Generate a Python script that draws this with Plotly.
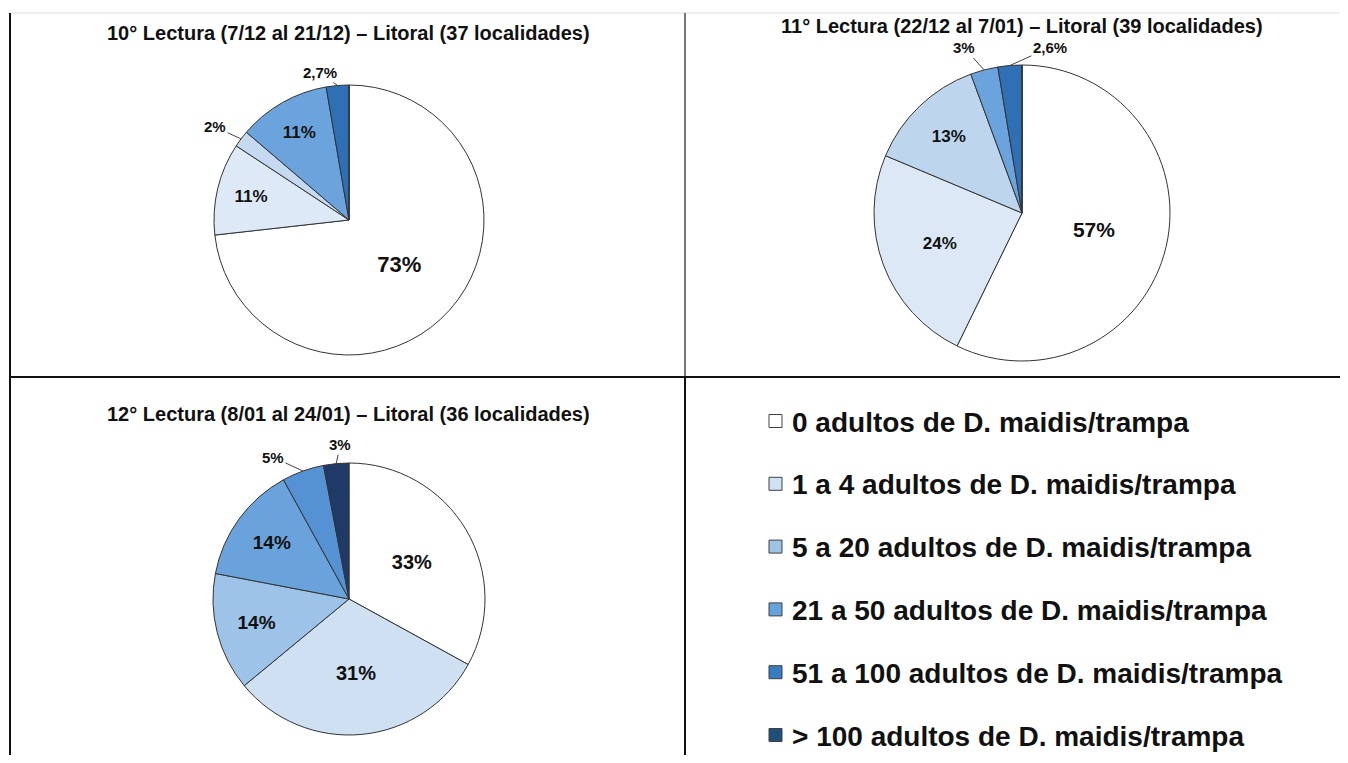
import math
import plotly.graph_objects as go

categories = [
    "0 adultos de D. maidis/trampa",
    "1 a 4 adultos de D. maidis/trampa",
    "5 a 20 adultos de D. maidis/trampa",
    "21 a 50 adultos de D. maidis/trampa",
    "51 a 100 adultos de D. maidis/trampa",
    "> 100 adultos de D. maidis/trampa",
]

titles = [
    "10° Lectura (7/12 al 21/12) – Litoral (37 localidades)",
    "11° Lectura (22/12 al 7/01) – Litoral (39 localidades)",
    "12° Lectura (8/01 al 24/01) – Litoral (36 localidades)",
]

values_10 = [73, 11, 2, 11, 2.7, 0]
values_11 = [57, 24, 13, 3, 2.6, 0]
values_12 = [33, 31, 14, 14, 5, 3]

colors_10 = ["#FFFFFF", "#DDE9F6", "#C5DAF0", "#6BA3DD", "#2F6FB5", "#1F3A66"]
colors_11 = ["#FFFFFF", "#DCE8F5", "#BDD6EE", "#6BA3DD", "#2F6FB5", "#1F3A66"]
colors_12 = ["#FFFFFF", "#CFE0F3", "#9EC3E8", "#6AA3DC", "#5592D4", "#1F3A66"]
legend_colors = ["#FFFFFF", "#D0E1F4", "#9DC3E6", "#66A3DB", "#3A7CC0", "#1F4E79"]

# page offset (browser body margin)
OFF = 8
W, H = 1348 - 2 * OFF, 763 - 2 * OFF
FONT = "Liberation Sans, Arial, sans-serif"


def X(px):
    return (px - OFF) / W


def Y(py):
    return 1 - (py - OFF) / H


def fmt(v):
    return ("%g" % v).replace(".", ",") + "%"


# pie geometry (reference pixels): centre x, centre y, radius
geo = [(349, 220, 135), (1022, 213, 148), (349, 599, 136)]
# small-slice label offsets (px) for outside labels with leader lines
label_offsets = [
    {2: (-26, -12), 4: (-18, -13)},
    {3: (-20, -22), 4: (40, -18)},
    {4: (-30, -14), 5: (4, -19)},
]
inner_sizes = [(17, 22), (17, 21), (19, 20)]


def dom(cx, cy, r):
    return dict(x=[X(cx - r), X(cx + r)], y=[Y(cy + r), Y(cy - r)])


fig = go.Figure()
all_values = [values_10, values_11, values_12]
all_colors = [colors_10, colors_11, colors_12]
for k, (values, colors, (cx, cy, r)) in enumerate(zip(all_values, all_colors, geo)):
    small, big = inner_sizes[k]
    text, sizes = [], []
    for v in values:
        if v >= 6:
            text.append("<b>%s</b>" % fmt(v))
            sizes.append(big if v >= 30 else small)
        else:
            text.append("")
            sizes.append(10)
    fig.add_trace(go.Pie(
        labels=categories, values=values, text=text, textinfo="text",
        textposition="inside", insidetextorientation="horizontal",
        textfont=dict(family=FONT, size=sizes, color="#111111"),
        marker=dict(colors=colors, line=dict(color="#333333", width=1)),
        sort=False, direction="clockwise", rotation=0,
        domain=dom(cx, cy, r), showlegend=False, hoverinfo="label+text",
    ))
    # outside labels for small slices with leader lines
    total = sum(values)
    cum = 0.0
    for i, v in enumerate(values):
        if 0 < v < 6:
            mid = (cum + v / 2) / total * 2 * math.pi
            ex = cx + r * math.sin(mid)
            ey = cy - r * math.cos(mid)
            ax, ay = label_offsets[k][i]
            fig.add_annotation(
                x=X(ex), y=Y(ey), xref="paper", yref="paper",
                text="<b>%s</b>" % fmt(v), showarrow=True, arrowhead=0,
                arrowwidth=1, arrowcolor="#444444", ax=ax, ay=ay, standoff=0,
                font=dict(family=FONT, size=15, color="#111111"),
            )
        cum += v

# legend block (bottom-right quadrant): square swatch + bold label per category
LEG_X, LEG_Y0, LEG_STEP, SW = 769, 421, 62.8, 13
for i, (name, c) in enumerate(zip(categories, legend_colors)):
    yc = LEG_Y0 + i * LEG_STEP
    fig.add_shape(type="rect", xref="paper", yref="paper",
                  x0=X(LEG_X), x1=X(LEG_X + SW), y0=Y(yc + SW / 2), y1=Y(yc - SW / 2),
                  fillcolor=c, line=dict(color="#404040", width=1))
    fig.add_annotation(text="<b>%s</b>" % name, x=X(LEG_X + SW + 8), y=Y(yc + 1),
                       xref="paper", yref="paper", showarrow=False,
                       xanchor="left", yanchor="middle",
                       font=dict(family=FONT, size=28, color="#111111"))

title_pos = [(349, 33), (1022, 26), (349, 414)]
for t, (x, y) in zip(titles, title_pos):
    fig.add_annotation(text="<b>%s</b>" % t, x=X(x), y=Y(y), xref="paper", yref="paper",
                       showarrow=False, font=dict(family=FONT, size=20, color="#111111"),
                       xanchor="center", yanchor="middle")

# frame lines
dark = dict(color="#111111", width=2)
fig.add_shape(type="line", xref="paper", yref="paper", x0=0, x1=1, y0=Y(13), y1=Y(13),
              line=dict(color="#DDDDDD", width=1))
fig.add_shape(type="line", xref="paper", yref="paper", x0=X(10), x1=X(10), y0=0, y1=Y(13), line=dark)
fig.add_shape(type="line", xref="paper", yref="paper", x0=X(685), x1=X(685), y0=Y(377), y1=Y(13),
              line=dict(color="#777777", width=2))
fig.add_shape(type="line", xref="paper", yref="paper", x0=X(685), x1=X(685), y0=0, y1=Y(377), line=dark)
fig.add_shape(type="line", xref="paper", yref="paper", x0=X(10), x1=1, y0=Y(377), y1=Y(377), line=dark)

fig.update_layout(
    width=W, height=H,
    margin=dict(l=0, r=0, t=0, b=0),
    paper_bgcolor="white", plot_bgcolor="white",
    showlegend=False,
    font=dict(family=FONT),
)

fig.write_html("out.html")
